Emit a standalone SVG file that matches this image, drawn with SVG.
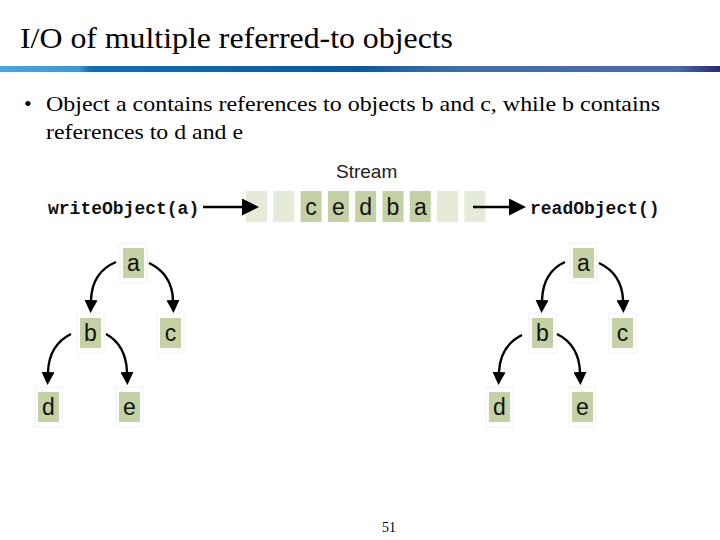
<svg xmlns="http://www.w3.org/2000/svg" width="720" height="540" viewBox="0 0 720 540">
<defs>
<linearGradient id="bar" x1="0" y1="0" x2="1" y2="0">
<stop offset="0" stop-color="#4aa6de"/>
<stop offset="0.11" stop-color="#3a9ad6"/>
<stop offset="0.125" stop-color="#0f70b6"/>
<stop offset="0.5" stop-color="#0a5a9f"/>
<stop offset="0.62" stop-color="#3e6ea9"/>
<stop offset="0.94" stop-color="#4b6ba6"/>
<stop offset="1" stop-color="#2a2870"/>
</linearGradient>
<marker id="ah" markerWidth="13" markerHeight="13" refX="0" refY="6.5" orient="auto" markerUnits="userSpaceOnUse">
<path d="M0,0 L13,6.5 L0,13 z" fill="#000"/>
</marker>
<marker id="ahbig" markerWidth="17" markerHeight="17" refX="0" refY="8.5" orient="auto" markerUnits="userSpaceOnUse">
<path d="M0,0 L17,8.5 L0,17 z" fill="#000"/>
</marker>
</defs>
<style>
.title{font-family:"Liberation Serif",serif;font-size:29px;fill:#000}
.body{font-family:"Liberation Serif",serif;font-size:22px;fill:#000}
.code{font-family:"Liberation Mono",monospace;font-size:18px;font-weight:bold;fill:#111}
.lbl{font-family:"Liberation Sans",Arial,sans-serif;font-size:23px;fill:#111;text-anchor:middle}
.stream{font-family:"Liberation Sans",Arial,sans-serif;font-size:19px;fill:#222}
.pale{fill:#e4ebd9}
.dark{fill:#c3d1a5}
.frame{fill:#fff;stroke:#f2f2f2;stroke-width:1}
.conn{fill:none;stroke:#000;stroke-width:2.4}
</style>
<rect width="720" height="540" fill="#fff"/>
<text class="title" x="20" y="48" textLength="433" lengthAdjust="spacingAndGlyphs">I/O of multiple referred-to objects</text>
<rect x="0" y="66" width="720" height="6" fill="url(#bar)"/>
<text class="body" x="24" y="111">•</text>
<text class="body" x="46" y="111" textLength="614" lengthAdjust="spacingAndGlyphs">Object a contains references to objects b and c, while b contains</text>
<text class="body" x="46" y="139" textLength="197" lengthAdjust="spacingAndGlyphs">references to d and e</text>

<g id="stream">
<text class="stream" x="336" y="178">Stream</text>
<rect class="pale" x="246" y="191" width="21" height="31"/>
<rect class="pale" x="273.3" y="191" width="21" height="31"/>
<rect class="dark" x="300.6" y="191" width="21" height="31"/>
<rect class="dark" x="327.9" y="191" width="21" height="31"/>
<rect class="dark" x="355.2" y="191" width="21" height="31"/>
<rect class="dark" x="382.5" y="191" width="21" height="31"/>
<rect class="dark" x="409.8" y="191" width="21" height="31"/>
<rect class="pale" x="437.1" y="191" width="21" height="31"/>
<rect class="pale" x="464.4" y="191" width="21" height="31"/>
<text class="lbl" x="311.1" y="215">c</text>
<text class="lbl" x="338.4" y="215">e</text>
<text class="lbl" x="365.7" y="215">d</text>
<text class="lbl" x="393" y="215">b</text>
<text class="lbl" x="420.3" y="215">a</text>
</g>
<g id="write"><text class="code" x="48" y="214">writeObject(a)</text></g>
<g id="read"><text class="code" x="530" y="214">readObject()</text></g>

<g id="L-a"><rect class="frame" x="120" y="243" width="27" height="40"/><rect class="dark" x="123" y="248" width="21" height="30"/><text class="lbl" x="133.5" y="271">a</text></g>
<g id="L-b"><rect class="frame" x="77" y="313" width="27" height="40"/><rect class="dark" x="80" y="318" width="21" height="30"/><text class="lbl" x="90.5" y="341">b</text></g>
<g id="L-c"><rect class="frame" x="157" y="313" width="27" height="40"/><rect class="dark" x="160" y="318" width="21" height="30"/><text class="lbl" x="170.5" y="341">c</text></g>
<g id="L-d"><rect class="frame" x="35" y="387" width="27" height="40"/><rect class="dark" x="38" y="392" width="21" height="30"/><text class="lbl" x="48.5" y="415">d</text></g>
<g id="L-e"><rect class="frame" x="116" y="387" width="27" height="40"/><rect class="dark" x="119" y="392" width="21" height="30"/><text class="lbl" x="129.5" y="415">e</text></g>

<g id="R-a"><rect class="frame" x="570" y="243" width="27" height="40"/><rect class="dark" x="573" y="248" width="21" height="30"/><text class="lbl" x="583.5" y="271">a</text></g>
<g id="R-b"><rect class="frame" x="529" y="313" width="27" height="40"/><rect class="dark" x="532" y="318" width="21" height="30"/><text class="lbl" x="542.5" y="341">b</text></g>
<g id="R-c"><rect class="frame" x="609" y="313" width="27" height="40"/><rect class="dark" x="612" y="318" width="21" height="30"/><text class="lbl" x="622.5" y="341">c</text></g>
<g id="R-d"><rect class="frame" x="486" y="387" width="27" height="40"/><rect class="dark" x="489" y="392" width="21" height="30"/><text class="lbl" x="499.5" y="415">d</text></g>
<g id="R-e"><rect class="frame" x="569" y="387" width="27" height="40"/><rect class="dark" x="572" y="392" width="21" height="30"/><text class="lbl" x="582.5" y="415">e</text></g>

<g id="connectors">
<line class="conn" x1="203" y1="207" x2="242" y2="207" marker-end="url(#ahbig)"/>
<line class="conn" x1="473" y1="207" x2="509" y2="207" marker-end="url(#ahbig)"/>
<path class="conn" d="M116,262 Q92,272 91,300" marker-end="url(#ah)"/>
<path class="conn" d="M149,263 Q172,274 173,300" marker-end="url(#ah)"/>
<path class="conn" d="M71,334 Q49,345 48,372" marker-end="url(#ah)"/>
<path class="conn" d="M106,334 Q126,345 127,372" marker-end="url(#ah)"/>
<path class="conn" d="M565,262 Q543,272 542,300" marker-end="url(#ah)"/>
<path class="conn" d="M599,263 Q622,274 623,300" marker-end="url(#ah)"/>
<path class="conn" d="M522,335 Q500,346 499,372" marker-end="url(#ah)"/>
<path class="conn" d="M557,334 Q579,345 580,372" marker-end="url(#ah)"/>
</g>
<text class="body" x="382" y="532" style="font-size:14px">51</text>
</svg>
